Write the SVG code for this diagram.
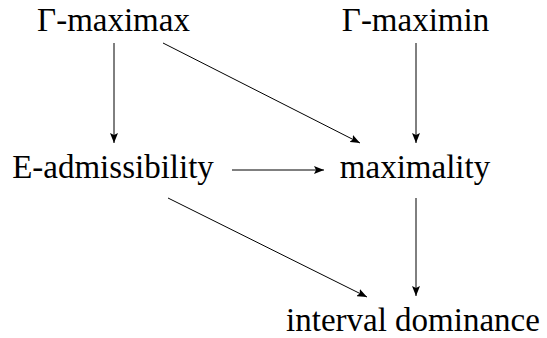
<svg xmlns="http://www.w3.org/2000/svg" width="547" height="338" viewBox="0 0 547 338">
<style>
text{font-family:"Liberation Serif","DejaVu Serif",serif;font-size:33px;fill:#000;text-anchor:middle}
.e{stroke:#000;stroke-width:1;fill:none;marker-end:url(#a)}
</style>
<defs>
<marker id="a" viewBox="0 0 10 8" refX="10" refY="4" markerWidth="10" markerHeight="8" markerUnits="userSpaceOnUse" orient="auto">
<path d="M0,0 L10,4 L0,8 L2,4 Z" fill="#000"/>
</marker>
</defs>
<rect width="547" height="338" fill="#fff"/>
<g id="connectors">
<line class="e" x1="114" y1="43" x2="114" y2="143"/>
<line class="e" x1="163" y1="43" x2="360" y2="143"/>
<line class="e" x1="416" y1="43" x2="416" y2="143"/>
<line class="e" x1="232" y1="170" x2="324" y2="170"/>
<line class="e" x1="416" y1="198" x2="416" y2="296"/>
<line class="e" x1="168" y1="198" x2="367" y2="297"/>
</g>
<g id="maximax"><text x="113.5" y="31">Γ-maximax</text></g>
<g id="maximin"><text x="415.5" y="31">Γ-maximin</text></g>
<g id="eadm"><text x="113" y="178">E-admissibility</text></g>
<g id="maximality"><text x="415" y="178">maximality</text></g>
<g id="interval"><text x="413" y="331">interval dominance</text></g>
</svg>
